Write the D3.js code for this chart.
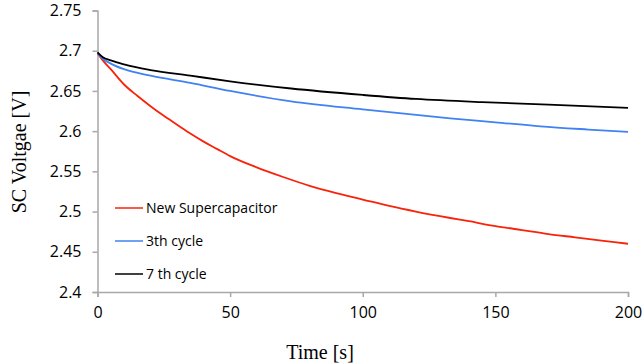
<!DOCTYPE html>
<html>
<head>
	<title>SC voltage decay</title>
	<script src="https://d3js.org/d3.v7.min.js"></script>
	<style>
		body { margin: 0; background: #fff; }
		svg { display: block; }
	</style>
</head>
<body>
	<div id="chart"></div>

	<script>
		// Values
		const xTicks = [0, 50, 100, 150, 200];
		const yTicks = [2.4, 2.45, 2.5, 2.55, 2.6, 2.65, 2.7, 2.75];
		const seriesNames = ["New Supercapacitor", "3th cycle", "7 th cycle"];

		const newTime = [0, 2, 5, 10, 15, 20, 25, 30, 35, 40, 45, 50, 60, 70, 80, 90, 100, 110, 120, 133, 140, 150, 160, 170, 180, 190, 200];
		const newVolt = [2.697, 2.688, 2.677, 2.658, 2.644, 2.631, 2.619, 2.608, 2.597, 2.587, 2.578, 2.569, 2.555, 2.543, 2.532, 2.523, 2.515, 2.507, 2.5, 2.492, 2.488, 2.482, 2.477, 2.472, 2.468, 2.464, 2.46];

		const cyc3Time = [0, 2, 5, 10, 20, 35, 50, 73, 100, 133, 150, 167, 185, 200];
		const cyc3Volt = [2.697, 2.69, 2.684, 2.677, 2.669, 2.66, 2.65, 2.637, 2.627, 2.616, 2.611, 2.606, 2.602, 2.599];

		const cyc7Time = [0, 2, 5, 10, 20, 35, 50, 73, 100, 120, 145, 170, 200];
		const cyc7Volt = [2.698, 2.692, 2.688, 2.683, 2.676, 2.669, 2.662, 2.653, 2.645, 2.64, 2.636, 2.633, 2.629];

		const colors = ["#f8230a", "#3f82f2", "#000000"];

		const width = 644, height = 364;
		const svg = d3.select("#chart")
			.append("svg")
			.attr("width", width)
			.attr("height", height);

		const x = d3.scaleLinear().domain([0, 200]).range([97.5, 628]);
		const y = d3.scaleLinear().domain([2.4, 2.75]).range([292, 10.5]);

		const tickFont = "'Open Sans', sans-serif";

		// y axis
		const yAxis = svg.append("g")
			.attr("transform", `translate(${x(0)},0)`)
			.call(d3.axisLeft(y).tickValues(yTicks).tickSize(5).tickPadding(11)
				.tickFormat(d => String(+d.toFixed(2))));

		// x axis
		const xAxis = svg.append("g")
			.attr("transform", `translate(0,${y(2.4)})`)
			.call(d3.axisBottom(x).tickValues(xTicks).tickSize(5).tickPadding(10));

		[yAxis, xAxis].forEach(g => {
			g.select(".domain").attr("stroke", "#a8a8a8").attr("stroke-width", 1.5);
			g.selectAll(".tick line").attr("stroke", "#a8a8a8").attr("stroke-width", 1.5);
			g.selectAll(".tick text")
				.attr("fill", "#000")
				.style("font-family", tickFont)
				.style("font-size", "16px");
		});

		// series
		const series = [
			newTime.map((t, i) => [t, newVolt[i]]),
			cyc3Time.map((t, i) => [t, cyc3Volt[i]]),
			cyc7Time.map((t, i) => [t, cyc7Volt[i]])
		];

		const line = d3.line()
			.x(d => x(d[0]))
			.y(d => y(d[1]))
			.curve(d3.curveMonotoneX);

		series.forEach((s, i) => {
			svg.append("path")
				.datum(s)
				.attr("fill", "none")
				.attr("stroke", colors[i])
				.attr("stroke-width", 1.8)
				.attr("d", line);
		});

		// legend
		const legend = svg.append("g");
		seriesNames.forEach((name, i) => {
			const ly = 208 + i * 33;
			legend.append("line")
				.attr("x1", 115).attr("x2", 143)
				.attr("y1", ly).attr("y2", ly)
				.attr("stroke", colors[i])
				.attr("stroke-width", 1.5);
			legend.append("text")
				.attr("x", 146)
				.attr("y", ly)
				.attr("dy", "0.35em")
				.style("font-family", tickFont)
				.style("font-size", "14px")
				.text(name);
		});

		// axis titles
		svg.append("text")
			.attr("x", 320)
			.attr("y", 359)
			.attr("text-anchor", "middle")
			.style("font-family", "'Liberation Serif', 'Times New Roman', serif")
			.style("font-size", "20px")
			.text("Time [s]");

		svg.append("text")
			.attr("transform", "translate(26,152) rotate(-90)")
			.attr("text-anchor", "middle")
			.style("font-family", "'Liberation Serif', 'Times New Roman', serif")
			.style("font-size", "20px")
			.text("SC Voltgae [V]");
	</script>
</body>
</html>
